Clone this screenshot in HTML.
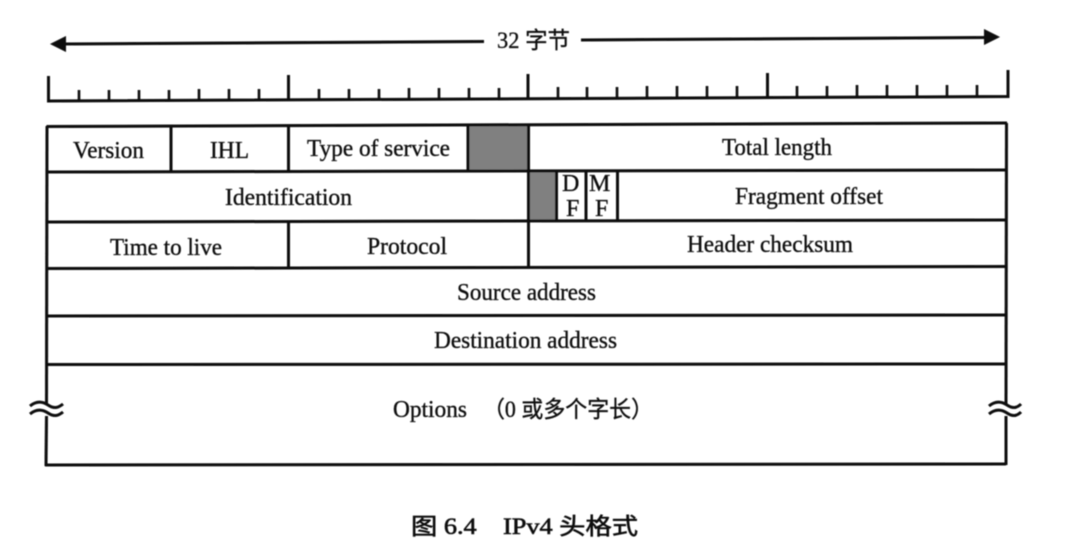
<!DOCTYPE html>
<html>
<head>
<meta charset="utf-8">
<style>
html,body{margin:0;padding:0;background:#fff;width:1067px;height:542px;overflow:hidden}
svg{display:block}
text{font-family:"Liberation Serif","Noto Serif CJK SC",serif;font-size:24px;fill:#111;stroke:#111;stroke-width:.35px}
.c{font-family:"Liberation Serif","Noto Sans CJK SC",sans-serif;font-size:23px}
</style>
</head>
<body>
<svg width="1067" height="542" viewBox="0 0 1067 542" xmlns="http://www.w3.org/2000/svg">
<defs><filter id="b" x="-2%" y="-2%" width="104%" height="104%"><feGaussianBlur stdDeviation="0.4"/></filter></defs>
<rect width="1067" height="542" fill="#fff"/>
<g filter="url(#b)">
<!-- gray cells -->
<polygon points="468,126 528,125 528,171 468,172" fill="#808080"/>
<polygon points="528,171 556,171 556,220 528,220" fill="#808080"/>

<g stroke="#080808" stroke-width="3" fill="none">
<!-- top arrow -->
<line x1="62" y1="44" x2="484" y2="41.5"/>
<line x1="581" y1="40" x2="986" y2="37.5"/>
<!-- ruler -->
<polyline points="48.5,76 48.5,101 1008,96.5 1008,70"/>
<line x1="288.5" y1="75" x2="288.5" y2="100"/>
<line x1="528" y1="74" x2="528" y2="99"/>
<line x1="767.5" y1="73" x2="767.5" y2="98"/>
<g stroke-width="2.6">
<line x1="79" y1="90" x2="79" y2="101"/><line x1="109" y1="90" x2="109" y2="101"/><line x1="139" y1="90" x2="139" y2="101"/><line x1="169" y1="90" x2="169" y2="101"/><line x1="199" y1="89" x2="199" y2="100"/><line x1="229" y1="89" x2="229" y2="100"/><line x1="259" y1="89" x2="259" y2="100"/>
<line x1="319" y1="89" x2="319" y2="100"/><line x1="349" y1="89" x2="349" y2="100"/><line x1="379" y1="89" x2="379" y2="100"/><line x1="409" y1="88" x2="409" y2="99"/><line x1="439" y1="88" x2="439" y2="99"/><line x1="469" y1="88" x2="469" y2="99"/><line x1="499" y1="88" x2="499" y2="99"/>
<line x1="558" y1="87" x2="558" y2="98"/><line x1="587" y1="87" x2="587" y2="98"/><line x1="617" y1="87" x2="617" y2="98"/><line x1="647" y1="86" x2="647" y2="97"/><line x1="677" y1="86" x2="677" y2="97"/><line x1="707" y1="86" x2="707" y2="97"/><line x1="737" y1="86" x2="737" y2="97"/>
<line x1="797" y1="86" x2="797" y2="97"/><line x1="827" y1="86" x2="827" y2="97"/><line x1="857" y1="85" x2="857" y2="96"/><line x1="887" y1="85" x2="887" y2="96"/><line x1="917" y1="85" x2="917" y2="96"/><line x1="947" y1="85" x2="947" y2="96"/><line x1="977" y1="85" x2="977" y2="96"/>
</g>
<!-- table horizontals -->
<line x1="46.5" y1="126.5" x2="1007" y2="123"/>
<line x1="46.5" y1="172" x2="1006" y2="170"/>
<line x1="46.5" y1="222" x2="1006" y2="220"/>
<line x1="46.5" y1="268.5" x2="1006" y2="266.5"/>
<line x1="46" y1="316" x2="1006" y2="315"/>
<line x1="46" y1="364.5" x2="1006" y2="364"/>
<line x1="45" y1="465" x2="1006" y2="464"/>
<!-- outer verticals -->
<line x1="47" y1="126" x2="46.5" y2="404"/>
<line x1="46.5" y1="416" x2="46" y2="466"/>
<line x1="1006.5" y1="123" x2="1006" y2="404"/>
<line x1="1006" y1="416" x2="1006" y2="465"/>
<!-- inner verticals -->
<line x1="171" y1="126" x2="171" y2="172"/>
<line x1="288.5" y1="126" x2="288.5" y2="172"/>
<line x1="468" y1="126" x2="468" y2="172"/>
<line x1="528.5" y1="125" x2="528.5" y2="268"/>
<line x1="288.5" y1="222" x2="288.5" y2="268"/>
<line x1="556.5" y1="171" x2="556.5" y2="221"/>
<line x1="586" y1="171" x2="586" y2="221"/>
<line x1="617.5" y1="171" x2="617.5" y2="221"/>
<!-- break marks -->
<path d="M30,406 C36,401 42,401 48,405 C54,409 58,408 63,404"/>
<path d="M30,414 C36,409 42,409 48,413 C54,417 58,416 63,412"/>
<path d="M989,406 C995,401 1001,401 1007,405 C1013,409 1017,408 1021,404"/>
<path d="M989,414 C995,409 1001,409 1007,413 C1013,417 1017,416 1021,412"/>
</g>
<!-- arrowheads -->
<polygon points="50,44 66,36 66,52" fill="#080808"/>
<polygon points="1000,37 984,29 984,45" fill="#080808"/>

<!-- labels -->
<text x="497" y="48" textLength="73" lengthAdjust="spacingAndGlyphs" class="c">32 字节</text>
<text x="73" y="158" textLength="71" lengthAdjust="spacingAndGlyphs">Version</text>
<text x="210" y="158" textLength="39" lengthAdjust="spacingAndGlyphs">IHL</text>
<text x="307" y="156" textLength="143" lengthAdjust="spacingAndGlyphs">Type of service</text>
<text x="722" y="155" textLength="110" lengthAdjust="spacingAndGlyphs">Total length</text>
<text x="225" y="205" textLength="127" lengthAdjust="spacingAndGlyphs">Identification</text>
<text x="562" y="191">D</text>
<text x="566" y="216">F</text>
<text x="589" y="191">M</text>
<text x="595" y="216">F</text>
<text x="735" y="204" textLength="148" lengthAdjust="spacingAndGlyphs">Fragment offset</text>
<text x="110" y="255" textLength="112" lengthAdjust="spacingAndGlyphs">Time to live</text>
<text x="367" y="254" textLength="80" lengthAdjust="spacingAndGlyphs">Protocol</text>
<text x="687" y="252" textLength="166" lengthAdjust="spacingAndGlyphs">Header checksum</text>
<text x="457" y="300" textLength="139" lengthAdjust="spacingAndGlyphs">Source address</text>
<text x="434" y="348" textLength="183" lengthAdjust="spacingAndGlyphs">Destination address</text>
<text x="393" y="417" textLength="74" lengthAdjust="spacingAndGlyphs">Options</text>
<text x="483" y="417" textLength="170" lengthAdjust="spacingAndGlyphs" class="c">（0 或多个字长）</text>
<text x="411" y="534" textLength="227" lengthAdjust="spacingAndGlyphs" class="c" style="stroke-width:.6px">图 6.4　IPv4 头格式</text>
</g>
</svg>
</body>
</html>
